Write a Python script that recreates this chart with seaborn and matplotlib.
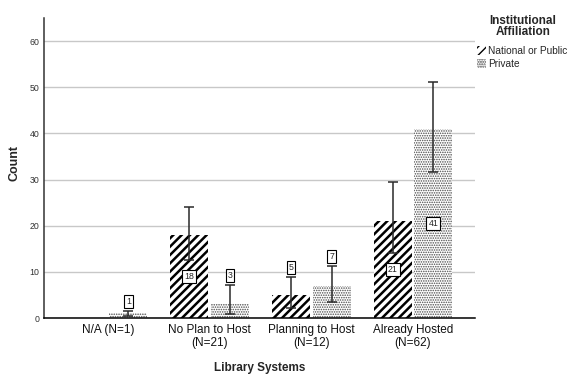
import numpy as np
import pandas as pd
import matplotlib
matplotlib.use("Agg")
import matplotlib.pyplot as plt
from matplotlib.patches import Patch
import seaborn as sns

# Counts of library systems by hosting status and institutional affiliation
categories = ["N/A (N=1)", "No Plan to Host\n(N=21)",
              "Planning to Host\n(N=12)", "Already Hosted\n(N=62)"]
affiliations = ["National or Public", "Private"]
national = [0, 18, 5, 21]
private = [1, 3, 7, 41]
# 95% confidence interval bounds for each count
national_lo = [np.nan, 12.5, 2.2, 14.0]
national_hi = [np.nan, 24.0, 8.9, 29.4]
private_lo = [0.5, 0.9, 3.5, 31.7]
private_hi = [1.5, 7.1, 11.2, 51.2]
y_ticks = [0, 10, 20, 30, 40, 50, 60]

sns.set_style("white")
plt.rcParams["font.family"] = ["Liberation Sans", "DejaVu Sans"]

df = pd.DataFrame({
    "Library Systems": categories * 2,
    "Institutional Affiliation": [affiliations[0]] * 4 + [affiliations[1]] * 4,
    "Count": national + private,
})

fig = plt.figure(figsize=(5.68, 3.75), dpi=100)
ax = fig.add_axes([44 / 568, 1 - 318 / 375, 431 / 568, 300 / 375])

sns.barplot(data=df, x="Library Systems", y="Count",
            hue="Institutional Affiliation", order=categories,
            hue_order=affiliations, palette=["white", "white"],
            errorbar=None, width=0.8, gap=0.07, legend=False, ax=ax)

styles = {
    affiliations[0]: dict(hatch="////", color="black", hlw=1.8),
    affiliations[1]: dict(hatch=".......", color="#4a4a4a", hlw=0.75),
}
values = {affiliations[0]: national, affiliations[1]: private}
lows = {affiliations[0]: national_lo, affiliations[1]: private_lo}
highs = {affiliations[0]: national_hi, affiliations[1]: private_hi}


def style_patch(p, st):
    p.set_facecolor("white")
    p.set_edgecolor(st["color"])
    p.set_linewidth(0)
    p.set_hatch(st["hatch"])
    if hasattr(p, "set_hatch_linewidth"):
        p.set_hatch_linewidth(st["hlw"])
    else:
        p._hatch_linewidth = st["hlw"]


label_box = dict(boxstyle="square,pad=0.22", fc="white", ec="black", lw=0.8)

for cont, aff in zip(ax.containers, affiliations):
    st = styles[aff]
    for bar, v, lo, hi in zip(cont.patches, values[aff], lows[aff], highs[aff]):
        style_patch(bar, st)
        if v == 0:
            continue
        xc = bar.get_x() + bar.get_width() / 2
        ax.errorbar(xc, v, yerr=[[v - lo], [hi - v]], fmt="none",
                    ecolor="#2a2a2a", elinewidth=1.1, capsize=3.8,
                    capthick=1.1, zorder=4)
        if v >= 10:
            ax.text(xc, v / 2, str(v), ha="center", va="center",
                    fontsize=6.3, zorder=5, bbox=label_box)
        else:
            ax.annotate(str(v), (xc, hi), xytext=(0, 7), textcoords="offset points",
                        ha="center", va="center", fontsize=6.3, zorder=5,
                        bbox=label_box)

ax.set_xlim(-0.63, 3.61)
ax.set_ylim(0, 65)
ax.set_yticks(y_ticks)
ax.set_yticklabels([str(t) for t in y_ticks])
ax.yaxis.grid(True, color="#c8c8c8", linewidth=1.0)
ax.set_axisbelow(True)
ax.tick_params(axis="y", length=0, pad=3.5, labelsize=6.3, labelcolor="#333333")
ax.tick_params(axis="x", length=0, pad=4, labelsize=8.5, labelcolor="#111111")

for side in ["top", "right"]:
    ax.spines[side].set_visible(False)
ax.spines["left"].set_color("#333333")
ax.spines["left"].set_linewidth(1.1)
ax.spines["bottom"].set_color("black")
ax.spines["bottom"].set_linewidth(1.1)

ax.set_xlabel("Library Systems", fontsize=8.5, fontweight="bold", labelpad=9)
ax.set_ylabel("Count", fontsize=9, fontweight="bold")
ax.yaxis.label.set_va("center")
ax.yaxis.set_label_coords(-0.068, 0.517)

# Legend title drawn as centred two-line text above the legend entries
fig.text(523 / 568, 1 - 26.5 / 375, "Institutional\nAffiliation",
         ha="center", va="center", multialignment="center",
         fontsize=8.5, fontweight="bold", linespacing=0.95)

handles = []
for a in affiliations:
    h = Patch(label=a)
    style_patch(h, styles[a])
    handles.append(h)
leg = fig.legend(handles=handles, loc="upper left",
                 bbox_to_anchor=(477 / 568, 1 - 46 / 375),
                 frameon=False, fontsize=7.3, handlelength=0.9,
                 handleheight=0.9, handletextpad=0.2, labelspacing=0.3,
                 borderpad=0, borderaxespad=0)

fig.savefig("out.png", dpi=100)
